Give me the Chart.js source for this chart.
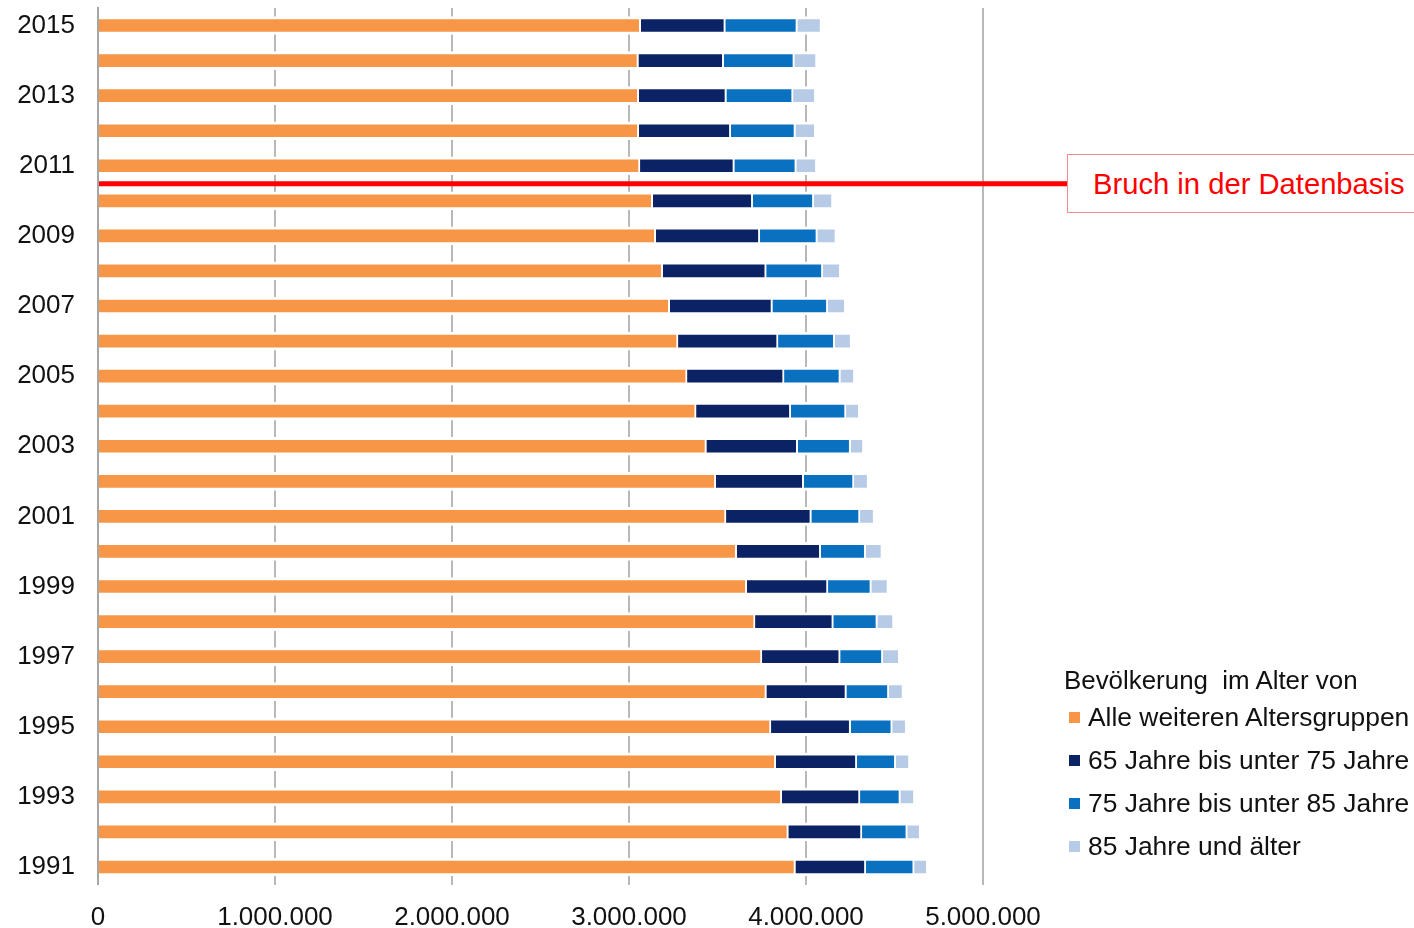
<!DOCTYPE html>
<html>
<head>
<meta charset="utf-8">
<script src="https://cdn.jsdelivr.net/npm/chart.js@4.4.1/dist/chart.umd.min.js"></script>
<style>
  html, body { margin: 0; padding: 0; background: #fff; }
  #wrap { position: relative; width: 1414px; height: 928px; overflow: hidden; font-family: "Liberation Sans", Arial, sans-serif; }
  #c { position: absolute; left: 0; top: 0; }
  .leg { position: absolute; font-size: 26.4px; color: #111; white-space: nowrap; line-height: 30px; }
  .sw { position: absolute; width: 11px; height: 11px; }
  #note { position: absolute; left: 1067px; top: 154px; width: 400px; height: 59px; border: 1px solid #f28b8b; background: #fff; box-sizing: border-box; }
  #noteText { position: absolute; left: 1093px; top: 168px; font-size: 29.2px; line-height: 32px; color: #ff0000; white-space: nowrap; }
</style>
</head>
<body>
<div id="wrap">
  <canvas id="c" width="1414" height="928"></canvas>
  <div id="note"></div>
  <div id="noteText">Bruch in der Datenbasis</div>
  <div class="leg" style="left:1064px; top:665px; font-size:25.9px;">Bevölkerung&nbsp; im Alter von</div>
  <div id="legItems"></div>
</div>
<script>
// Years (bottom to top)
const years = ['1991','1992','1993','1994','1995','1996','1997','1998','1999','2000','2001','2002','2003',
               '2004','2005','2006','2007','2008','2009','2010','2011','2012','2013','2014','2015'];
// Values in persons
const alleWeiteren = [3940000,3900000,3863000,3829000,3802000,3776000,3751000,3712000,3665000,3608000,3548000,3490000,3437000,
                      3379000,3328000,3277000,3230000,3190000,3151000,3134000,3062000,3055000,3055000,3053000,3066000];
const j65bis75     = [398000,416000,442000,458000,450000,452000,442000,442000,459000,475000,482000,497000,516000,
                      535000,548000,565000,580000,585000,588000,565000,533000,520000,495000,482000,478000];
const j75bis85     = [273000,256000,228000,220000,235000,240000,241000,249000,245000,254000,275000,284000,299000,
                      312000,318000,320000,313000,320000,325000,345000,350000,365000,377000,399000,407000];
const j85plus      = [68000,66000,73000,71000,72000,73000,86000,85000,87000,85000,73000,73000,66000,
                      68000,73000,86000,92000,92000,98000,99000,107000,106000,119000,119000,127000];
const seriesNames = ['Alle weiteren Altersgruppen','65 Jahre bis unter 75 Jahre','75 Jahre bis unter 85 Jahre','85 Jahre und älter'];
const seriesColors = ['#F79646','#0B2365','#0A70C0','#B7CBE6'];
const xTicks = [0,1000000,2000000,3000000,4000000,5000000];
const breakBetween = ['2010','2011'];

const allSeries = [alleWeiteren, j65bis75, j75bis85, j85plus];

function fmtDE(v) {
  return String(Math.round(v)).replace(/\B(?=(\d{3})+(?!\d))/g, '.');
}

const breakLine = {
  id: 'breakLine',
  afterDatasetsDraw(chart) {
    const y = chart.scales.y;
    const i0 = years.indexOf(breakBetween[0]);
    const i1 = years.indexOf(breakBetween[1]);
    const py = (y.getPixelForValue(i0) + y.getPixelForValue(i1)) / 2 + 0.5;
    const ctx = chart.ctx;
    ctx.save();
    ctx.strokeStyle = '#ff0000';
    ctx.lineWidth = 5;
    ctx.beginPath();
    ctx.moveTo(chart.chartArea.left + 1, py);
    ctx.lineTo(1067, py);
    ctx.stroke();
    ctx.restore();
  }
};

const datasets = allSeries.map((arr, i) => ({
  label: seriesNames[i],
  data: arr,
  backgroundColor: seriesColors[i],
  borderColor: '#ffffff',
  borderWidth: {top: 3, bottom: 3, left: 0, right: i < 3 ? 2 : 0},
  borderSkipped: false,
  barThickness: 18
}));

new Chart(document.getElementById('c'), {
  type: 'bar',
  data: { labels: years, datasets },
  options: {
    indexAxis: 'y',
    responsive: false,
    animation: false,
    devicePixelRatio: 1,
    layout: { padding: { top: 8, right: 431, left: 0, bottom: 0 } },
    plugins: { legend: { display: false }, tooltip: { enabled: false } },
    scales: {
      x: {
        stacked: true,
        min: 0, max: 5000000,
        afterBuildTicks(scale) { scale.ticks = xTicks.map(v => ({ value: v })); },
        afterFit(scale) { scale.height = 43.5; scale.paddingLeft = 0; scale.paddingRight = 0; },
        grid: { color: '#b8b8b8', lineWidth: 2, drawTicks: false },
        border: { display: false },
        ticks: {
          font: { family: 'Liberation Sans', size: 26 },
          color: '#111',
          padding: 18,
          maxRotation: 0,
          autoSkip: false,
          callback: (v) => fmtDE(v)
        }
      },
      y: {
        stacked: true,
        reverse: true,
        afterFit(scale) { scale.width = 98; scale.paddingTop = 0; scale.paddingBottom = 0; },
        grid: { display: false, drawTicks: false },
        border: { display: true, color: '#a6a6a6', width: 2, z: 1 },
        ticks: {
          font: { family: 'Liberation Sans', size: 26 },
          color: '#111',
          padding: 23,
          autoSkip: false,
          callback: (v, idx) => (idx % 2 === 0 ? years[idx] : '')
        }
      }
    }
  },
  plugins: [breakLine]
});

// Legend (HTML)
const legItems = document.getElementById('legItems');
seriesNames.forEach((name, i) => {
  const cy = 717 + i * 43;
  const sw = document.createElement('div');
  sw.className = 'sw';
  sw.style.left = '1069px';
  sw.style.top = (cy - 5) + 'px';
  sw.style.background = seriesColors[i];
  legItems.appendChild(sw);
  const t = document.createElement('div');
  t.className = 'leg';
  t.style.left = '1088px';
  t.style.top = (cy - 15) + 'px';
  t.textContent = name;
  legItems.appendChild(t);
});
</script>
</body>
</html>
